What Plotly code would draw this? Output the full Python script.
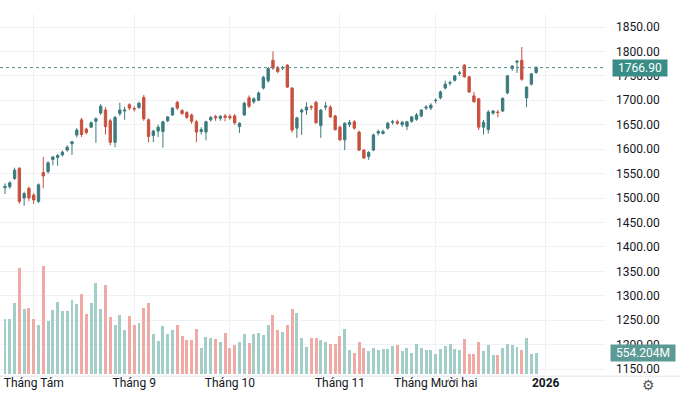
import pandas as pd
import plotly.graph_objects as go

# ---- data ----
holidays = ["2025-09-01", "2025-09-02"]
dates = [d for d in pd.bdate_range("2025-07-24", "2025-12-30") if d.strftime("%Y-%m-%d") not in holidays]

opens = [1521,1523,1540,1561,1500,1520,1506,1493,1552,1554,1579,1583,1588,1598,1611,1629,1660,1641,1645,1657,
         1674,1680,1658,1614,1673,1678,1691,1683,1685,1706,1660,1628,1637,1636,1658,1670,1696,1679,1675,1670,
         1656,1636,1635,1660,1667,1663,1668,1667,1668,1646,1670,1705,1697,1700,1725,1740,1782,1766,1766,1772,
         1725,1643,1676,1680,1687,1696,1648,1686,1686,1668,1645,1619,1650,1656,1635,1598,1585,1598,1633,1632,
         1643,1655,1656,1650,1647,1657,1661,1668,1684,1684,1699,1705,1725,1735,1741,1755,1772,1748,1709,1703,
         1645,1640,1674,1676,1678,1715,1765,1778,1782,1705,1733,1757]
highs = [1530,1534,1562,1563,1513,1523,1510,1530,1584,1575,1586,1590,1597,1608,1617,1643,1664,1644,1657,1665,
         1692,1686,1662,1668,1695,1687,1694,1688,1697,1711,1663,1640,1650,1658,1668,1686,1699,1682,1678,1673,
         1660,1645,1658,1668,1670,1670,1672,1672,1672,1655,1697,1710,1706,1718,1750,1768,1800,1770,1770,1774,
         1727,1666,1683,1696,1690,1699,1682,1697,1690,1670,1648,1655,1660,1660,1638,1600,1596,1632,1640,1640,
         1656,1660,1660,1658,1658,1668,1674,1681,1690,1694,1704,1720,1740,1740,1752,1760,1774,1750,1717,1705,
         1660,1680,1680,1680,1706,1752,1772,1782,1809,1728,1756,1770]
lows = [1508,1519,1537,1488,1484,1494,1488,1490,1520,1550,1567,1566,1585,1595,1588,1624,1625,1630,1643,1613,
        1670,1630,1608,1604,1668,1660,1680,1677,1683,1658,1614,1614,1625,1603,1655,1668,1680,1670,1662,1652,
        1614,1630,1618,1656,1658,1658,1657,1660,1650,1633,1668,1684,1693,1698,1722,1736,1762,1755,1762,1725,
        1634,1623,1629,1670,1680,1652,1623,1680,1664,1638,1617,1598,1645,1640,1596,1580,1578,1596,1628,1630,
        1640,1650,1650,1645,1639,1654,1658,1665,1680,1680,1694,1702,1722,1730,1738,1750,1746,1715,1695,1639,
        1630,1632,1670,1665,1676,1712,1760,1756,1740,1686,1730,1754]
closes = [1524,1531,1557,1493,1509,1500,1496,1527,1545,1572,1584,1587,1594,1604,1615,1639,1630,1634,1654,1662,
          1688,1646,1614,1665,1680,1680,1684,1682,1694,1662,1626,1637,1645,1656,1666,1684,1684,1673,1665,1657,
          1635,1640,1656,1665,1664,1667,1665,1664,1654,1653,1694,1688,1703,1715,1747,1765,1766,1759,1767,1727,
          1639,1664,1680,1686,1686,1654,1680,1688,1666,1640,1619,1653,1655,1643,1598,1582,1593,1629,1636,1636,
          1653,1656,1653,1655,1656,1666,1670,1680,1686,1690,1700,1717,1733,1736,1750,1756,1748,1717,1697,1645,
          1655,1676,1678,1675,1704,1750,1770,1780,1743,1727,1754,1766.9]
volumes_m = [1452,1452,1874,2798,1716,1742,1452,1294,2851,1399,1690,1901,1663,1663,1954,1848,2112,1584,1874,2402,
             1716,2350,1505,1294,1558,1162,1531,1294,1346,1742,1874,1056,871,1267,1056,1162,1294,1003,898,898,
             1188,686,977,950,924,845,1082,686,766,845,1056,818,1056,1082,1030,1294,1558,1162,1109,1294,
             1716,1610,950,713,950,950,898,845,792,792,1003,1188,634,554,845,686,607,686,634,660,
             660,739,766,607,686,554,792,686,634,634,528,660,739,792,660,634,924,528,528,845,
             607,766,502,502,686,792,766,713,634,950,528,554.204]

month_labels = ["Tháng Tám", "Tháng 9", "Tháng 10", "Tháng 11", "Tháng Mười hai", "<b>2026</b>"]
price_ticks = [1150 + 50 * k for k in range(15)]

# ---- styling ----
UP = "#3b7b7e"
DOWN = "#c9503d"
VUP = "#a3cdc7"
VDOWN = "#f0aaa5"
FONT = "Roboto"
TXT = "#131722"

x = list(range(len(dates)))
month_pos = [i for i in range(len(dates)) if i > 0 and dates[i].month != dates[i - 1].month]
month_pos = [6] + month_pos if 6 not in month_pos else month_pos
tick_pos = month_pos + [len(dates) + 1]

vol_colors = [VUP if c >= o else VDOWN for o, c in zip(opens, closes)]

fig = go.Figure()
fig.add_trace(go.Bar(x=x, y=volumes_m, marker_color=vol_colors, marker_line_width=0,
                     width=0.62, yaxis="y", hoverinfo="skip", showlegend=False))
fig.add_trace(go.Candlestick(x=x, open=opens, high=highs, low=lows, close=closes, yaxis="y2",
                             increasing=dict(line=dict(color=UP, width=1), fillcolor=UP),
                             decreasing=dict(line=dict(color=DOWN, width=1), fillcolor=DOWN),
                             whiskerwidth=0, showlegend=False))

last_close = closes[-1]
last_vol = volumes_m[-1]

fig.update_layout(
    width=680, height=397,
    margin=dict(l=0, r=75, t=14, b=23, autoexpand=False),
    paper_bgcolor="white", plot_bgcolor="white",
    font=dict(family=FONT, size=12, color=TXT),
    showlegend=False,
    bargap=0,
    xaxis=dict(range=[-1.045, 125.39], tickmode="array", tickvals=tick_pos, ticktext=month_labels,
               showgrid=True, gridcolor="#f0f1f4", gridwidth=1, zeroline=False, automargin=False,
               rangeslider=dict(visible=False), ticks="", tickfont=dict(size=12, color=TXT),
               showline=False, fixedrange=True),
    yaxis=dict(range=[0, 9504], visible=False, showgrid=False, zeroline=False, fixedrange=True),
    yaxis2=dict(range=[1139.8, 1876.6], overlaying="y", side="right", tickmode="array",
                tickvals=price_ticks, ticktext=[f"{v:.2f}" for v in price_ticks], automargin=False,
                showgrid=True, gridcolor="#f0f1f4", gridwidth=1, zeroline=False, ticks="",
                tickfont=dict(size=12, color=TXT), ticklabelstandoff=10, fixedrange=True),
    shapes=[
        dict(type="line", xref="paper", yref="y2", x0=0, x1=1, y0=last_close, y1=last_close,
             line=dict(color="#4f8f8a", width=1, dash="dot")),
        dict(type="line", xref="paper", yref="paper", x0=0, x1=680 / 605, y0=-0.006, y1=-0.006,
             line=dict(color="#e0e3eb", width=1)),
    ],
    annotations=[
        dict(xref="paper", yref="y2", x=1.0116, y=last_close, xanchor="left", yanchor="middle",
             text=f"{last_close:.2f}", showarrow=False, bgcolor="#3a8d86", width=52, align="center",
             font=dict(family=FONT, size=12, color="white"), borderpad=1),
        dict(xref="paper", yref="y", x=1.008, y=last_vol, xanchor="left", yanchor="middle",
             text=f"{last_vol:.3f}M", showarrow=False, bgcolor="#5c9a95", width=62, align="center",
             font=dict(family=FONT, size=12, color="white"), borderpad=1),
        dict(xref="paper", yref="paper", x=648 / 605, y=-0.031, xanchor="center", yanchor="middle",
             text="⚙", showarrow=False, font=dict(family="DejaVu Sans", size=14, color="#555555")),
    ],
)

fig.write_html("out.html", config={"displayModeBar": False},
               post_script="document.body.style.margin='0';")
